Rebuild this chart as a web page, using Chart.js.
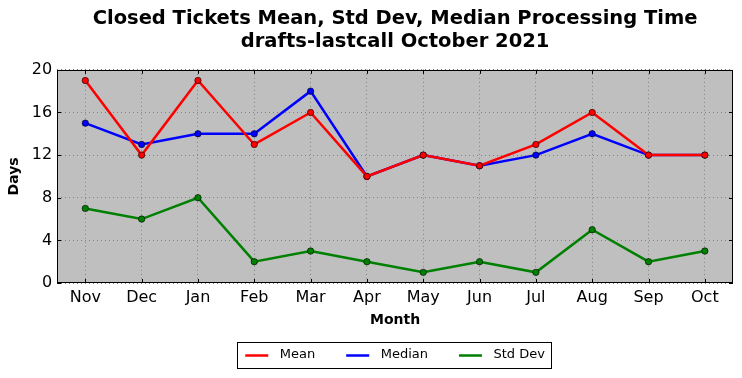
<!DOCTYPE html>
<html><head><meta charset="utf-8">
<script src="https://cdn.jsdelivr.net/npm/chart.js@4/dist/chart.umd.min.js"></script>
<style>html,body{margin:0;padding:0;background:#fff}#wrap{width:742px;height:378px}</style>
</head><body><div id="wrap"><canvas id="c" width="742" height="378"></canvas></div>
<script>
const months = ['Nov','Dec','Jan','Feb','Mar','Apr','May','Jun','Jul','Aug','Sep','Oct'];
const meanValues = [19,12,19,13,16,10,12,11,13,16,12,12];
const medianValues = [15,13,14,14,18,10,12,11,12,14,12,12];
const stdValues = [7,6,8,2,3,2,1,2,1,5,2,3];
const yTicks = [0,4,8,12,16,20];
const FONT = "'DejaVu Sans', sans-serif";
const LEGEND_LINE = 23;

const bgPlugin = {
  id: 'bg',
  afterLayout(chart) {
    const a = chart.chartArea;
    const mid = (a.left + a.right) / 2;
    const tb = chart.titleBlock;
    if (tb) {
      const s = mid - (tb.left + tb.right) / 2;
      tb.left += s; tb.right += s;
    }
    const lg = chart.legend;
    if (!lg) return;
    const shift = mid - ((lg.left + lg.right) / 2);
    lg.left += shift; lg.right += shift;
    lg.top = 317.5; lg.bottom = 378;
    lg.height = lg.bottom - lg.top;
    if (lg.adjustHitBoxes) lg.adjustHitBoxes();
  },
  beforeDraw(chart) {
    const {ctx, chartArea: a} = chart;
    ctx.save();
    ctx.fillStyle = '#bfbfbf';
    ctx.fillRect(a.left, a.top, a.right - a.left, a.bottom - a.top);
    ctx.restore();
  },
  afterDatasetsDraw(chart) {
    const {ctx, chartArea: a} = chart;
    ctx.save();
    ctx.strokeStyle = '#000';
    ctx.lineWidth = 1;
    const y = chart.scales.y, x = chart.scales.x;
    ctx.beginPath();
    yTicks.forEach(v => {
      const py = Math.round(y.getPixelForValue(v)) + 0.5;
      ctx.moveTo(a.left, py); ctx.lineTo(a.left + 4, py);
      ctx.moveTo(a.right, py); ctx.lineTo(a.right - 4, py);
    });
    months.forEach((m, i) => {
      const px = Math.round(x.getPixelForValue(i)) + 0.5;
      ctx.moveTo(px, a.bottom); ctx.lineTo(px, a.bottom - 4);
      ctx.moveTo(px, a.top); ctx.lineTo(px, a.top + 4);
    });
    ctx.stroke();
    ctx.strokeRect(Math.round(a.left) + 0.5, Math.round(a.top) + 0.5, Math.round(a.right - a.left) - 1, Math.round(a.bottom - a.top) - 1);
    ctx.restore();
  },
  afterDraw(chart) {
    const lg = chart.legend;
    if (!lg || !lg.legendHitBoxes.length) return;
    const ctx = chart.ctx;
    const boxes = lg.legendHitBoxes;
    const fs = 13;
    const pad = lg.options.labels.padding;
    const cy = lg.top + pad + fs / 2;
    const x0 = boxes[0].left;
    ctx.save();
    ctx.font = `13px ${FONT}`;
    let cx = x0;
    const bw = lg.options.labels.pointStyleWidth;
    chart.data.datasets.forEach((d) => {
      const tw = ctx.measureText(d.label).width;
      ctx.strokeStyle = d.borderColor;
      ctx.lineWidth = 2.5;
      ctx.beginPath();
      ctx.moveTo(cx, Math.round(cy) + 0.5);
      ctx.lineTo(cx + LEGEND_LINE, Math.round(cy) + 0.5);
      ctx.stroke();
      cx += bw + fs / 2 + tw + pad;
    });
    const r = cx - pad + 6;
    const l = x0 - 8;
    ctx.strokeStyle = '#000';
    ctx.lineWidth = 1;
    ctx.strokeRect(Math.round(l) + 0.5, Math.round(cy - 13) + 0.5, Math.round(r - l), 26);
    ctx.restore();
  }
};

function ds(label, data, color) {
  return {
    label, data,
    borderColor: color, backgroundColor: color,
    borderWidth: 2.5,
    pointRadius: 3.2, pointBorderColor: '#000', pointBorderWidth: 0.6,
    pointBackgroundColor: color,
    tension: 0
  };
}

new Chart(document.getElementById('c'), {
  type: 'line',
  data: {
    labels: months,
    datasets: [
      ds('Mean', meanValues, '#ff0000'),
      ds('Median', medianValues, '#0000ff'),
      ds('Std Dev', stdValues, '#008000')
    ]
  },
  options: {
    responsive: false,
    animation: false,
    devicePixelRatio: 1,
    layout: { padding: { left: 6, right: 9, top: 0, bottom: 19 } },
    plugins: {
      title: {
        display: true,
        text: ['Closed Tickets Mean, Std Dev, Median Processing Time', 'drafts-lastcall October 2021'],
        color: '#000',
        font: { family: FONT, size: 19.5, weight: 'bold', lineHeight: 1.15 },
        padding: { top: 8, bottom: 17 }
      },
      legend: {
        position: 'bottom',
        maxHeight: 30,
        labels: {
          color: '#000',
          font: { family: FONT, size: 13 },
          usePointStyle: true,
          pointStyle: 'line',
          pointStyleWidth: 28,
          boxWidth: 28,
          padding: 31,
          generateLabels(chart) {
            return chart.data.datasets.map((d, i) => ({
              text: d.label, fillStyle: 'rgba(0,0,0,0)', strokeStyle: 'rgba(0,0,0,0)',
              lineWidth: 0, pointStyle: 'line', hidden: false, datasetIndex: i, fontColor: '#000'
            }));
          }
        }
      },
      tooltip: { enabled: false }
    },
    scales: {
      x: {
        type: 'category',
        offset: true,
        grid: { color: '#808080', lineWidth: 1, offset: false, drawTicks: false },
        border: { display: false, dash: [1, 3] },
        ticks: { color: '#000', font: { family: FONT, size: 16 }, padding: 5 },
        title: { display: true, text: 'Month', color: '#000', font: { family: FONT, size: 14, weight: 'bold' }, padding: { top: 0, bottom: 0 } }
      },
      y: {
        min: 0, max: 20,
        afterBuildTicks(scale) { scale.ticks = yTicks.map(v => ({ value: v })); },
        grid: { color: '#808080', lineWidth: 1, drawTicks: false },
        border: { display: false, dash: [1, 3] },
        ticks: { color: '#000', font: { family: FONT, size: 16 }, padding: 5 },
        title: { display: true, text: 'Days', color: '#000', font: { family: FONT, size: 14, weight: 'bold' }, padding: { top: 0, bottom: 4 } }
      }
    }
  },
  plugins: [bgPlugin]
});
</script>
</body></html>
